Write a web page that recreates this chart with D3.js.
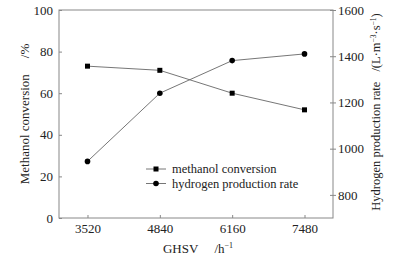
<!DOCTYPE html>
<html><head><meta charset="utf-8">
<script src="https://cdn.jsdelivr.net/npm/d3@7"></script>
<style>body{margin:0;background:#fff}svg text{font-family:"Liberation Serif","Times New Roman","DejaVu Serif",serif;fill:#222}</style>
</head><body><svg id="c" width="399" height="259"></svg>
<script>
const ghsv = [3520, 4840, 6160, 7480];
const methanolConversion = [73, 71, 60, 52];
const hydrogenRate = [945, 1240, 1381, 1410];
const leftTicks = [0, 20, 40, 60, 80, 100];
const rightTicks = [800, 1000, 1200, 1400, 1600];
const seriesNames = ["methanol conversion", "hydrogen production rate"];

const svg = d3.select("#c");
const L = 59, R = 333, T = 10, B = 218;
const x = d3.scaleLinear().domain([3000, 8000]).range([L, R]);
const yL = d3.scaleLinear().domain([0, 100]).range([B, T]);
const yR = d3.scaleLinear().domain([700, 1600]).range([B, T]);
const axisColor = "#888";
const FONT = '"Liberation Serif","Times New Roman","DejaVu Serif",serif';

svg.append("rect").attr("x", L).attr("y", T).attr("width", R - L).attr("height", B - T)
  .attr("fill", "none").attr("stroke", axisColor).attr("stroke-width", 1);

function style(g) {
  g.attr("font-family", FONT);
  g.select(".domain").remove();
  g.selectAll(".tick line").attr("stroke", axisColor);
  g.selectAll(".tick text").attr("font-size", 13).style("font-family", FONT).attr("fill", "#222");
}
const gx = svg.append("g").attr("transform", `translate(0,${B})`)
  .call(d3.axisBottom(x).tickValues(ghsv).tickSize(-3).tickPadding(6).tickFormat(d3.format("d")));
style(gx);
const gl = svg.append("g").attr("transform", `translate(${L},0)`)
  .call(d3.axisLeft(yL).tickValues(leftTicks).tickSize(-3).tickPadding(6));
style(gl);
const gr = svg.append("g").attr("transform", `translate(${R},0)`)
  .call(d3.axisRight(yR).tickValues(rightTicks).tickSize(-3).tickPadding(6).tickFormat(d3.format("d")));
style(gr);
gr.selectAll(".tick line").attr("x2", 3).attr("x1", -3);
gr.selectAll(".tick text").attr("x", 5);

const lineColor = "#666";
const lm = d3.line().x((d, i) => x(ghsv[i])).y(d => yL(d));
const lh = d3.line().x((d, i) => x(ghsv[i])).y(d => yR(d));
svg.append("path").attr("d", lm(methanolConversion)).attr("fill", "none").attr("stroke", lineColor).attr("stroke-width", 0.9);
svg.append("path").attr("d", lh(hydrogenRate)).attr("fill", "none").attr("stroke", lineColor).attr("stroke-width", 0.9);
svg.selectAll(".sq").data(methanolConversion).join("rect").attr("class", "sq")
  .attr("x", (d, i) => x(ghsv[i]) - 2.5).attr("y", d => yL(d) - 2.5).attr("width", 5).attr("height", 5).attr("fill", "#000");
svg.selectAll(".ci").data(hydrogenRate).join("circle").attr("class", "ci")
  .attr("cx", (d, i) => x(ghsv[i])).attr("cy", d => yR(d)).attr("r", 2.8).attr("fill", "#000");

const lg = svg.append("g");
[0, 1].forEach(i => {
  const yy = 169 + i * 14.5;
  lg.append("line").attr("x1", 146).attr("x2", 166).attr("y1", yy).attr("y2", yy).attr("stroke", lineColor).attr("stroke-width", 0.9);
  if (i === 0) lg.append("rect").attr("x", 153.5).attr("y", yy - 2.5).attr("width", 5).attr("height", 5).attr("fill", "#000");
  else lg.append("circle").attr("cx", 156).attr("cy", yy).attr("r", 2.8).attr("fill", "#000");
  lg.append("text").attr("x", 172).attr("y", yy + 4).attr("font-size", 12.5).text(seriesNames[i]);
});

const xt = svg.append("text").attr("x", 198).attr("y", 253).attr("text-anchor", "middle").attr("font-size", 13);
xt.append("tspan").text("GHSV");
xt.append("tspan").attr("dx", 16).text("/h");
xt.append("tspan").attr("dy", -5).attr("font-size", 8).text("−1");

const ytl = svg.append("text").attr("transform", "translate(29,114) rotate(-90)").attr("text-anchor", "middle").attr("font-size", 13);
ytl.append("tspan").text("Methanol conversion");
ytl.append("tspan").attr("dx", 16).text("/%");

const ytr = svg.append("text").attr("transform", "translate(380,112) rotate(-90)").attr("text-anchor", "middle").attr("font-size", 12.5);
ytr.append("tspan").text("Hydrogen production rate");
ytr.append("tspan").attr("dx", 10).text("/(L·m");
ytr.append("tspan").attr("dy", -4).attr("font-size", 7.5).text("−3");
ytr.append("tspan").attr("dy", 4).text("·s");
ytr.append("tspan").attr("dy", -4).attr("font-size", 7.5).text("−1");
ytr.append("tspan").attr("dy", 4).text(")");
</script></body></html>
